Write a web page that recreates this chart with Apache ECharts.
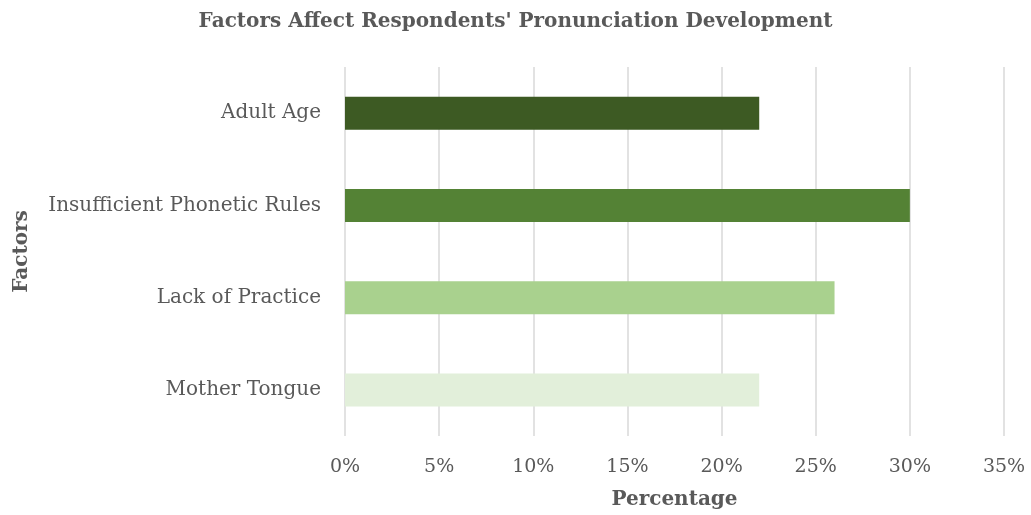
<!DOCTYPE html>
<html>
<head>
<meta charset="utf-8">
<script src="https://cdn.jsdelivr.net/npm/echarts@6/dist/echarts.min.js"></script>
<style>
html,body{margin:0;padding:0;background:#fff;}
#chart{width:1031px;height:515px;}
</style>
</head>
<body>
<div id="chart"></div>
<script>
const categories = ['Adult Age', 'Insufficient Phonetic Rules', 'Lack of Practice', 'Mother Tongue'];
const values = [22, 30, 26, 22];
const barColors = ['#3D5A23', '#548235', '#A9D18E', '#E2EFDA'];
const xTicks = [0, 5, 10, 15, 20, 25, 30, 35];

const font = '"DejaVu Serif", "Liberation Serif", serif';
const chart = echarts.init(document.getElementById('chart'));
chart.setOption({
  backgroundColor: '#ffffff',
  animation: false,
  title: {
    text: "Factors Affect Respondents' Pronunciation Development",
    left: 'center',
    top: 7,
    textStyle: { fontFamily: font, fontWeight: 'bold', fontSize: 20, color: '#595959' }
  },
  grid: { left: 345, right: 27, top: 67, bottom: 79, containLabel: false },
  xAxis: {
    type: 'value',
    min: xTicks[0],
    max: xTicks[xTicks.length - 1],
    interval: 5,
    name: 'Percentage',
    nameLocation: 'middle',
    nameGap: 54,
    nameTextStyle: { fontFamily: font, fontWeight: 'bold', fontSize: 20, color: '#595959' },
    axisLine: { show: false },
    axisTick: { show: false },
    axisLabel: { formatter: '{value}%', fontFamily: font, fontSize: 19, color: '#595959', margin: 22 },
    splitLine: { show: true, lineStyle: { color: '#D9D9D9', width: 1.5 } }
  },
  yAxis: {
    type: 'category',
    data: categories,
    inverse: true,
    name: 'Factors',
    nameLocation: 'middle',
    nameGap: 313,
    nameRotate: 90,
    nameTextStyle: { fontFamily: font, fontWeight: 'bold', fontSize: 20, color: '#595959' },
    axisLine: { show: false },
    axisTick: { show: false },
    axisLabel: { fontFamily: font, fontSize: 20, color: '#595959', margin: 24 }
  },
  series: [{
    type: 'bar',
    barWidth: 33,
    data: values.map((v, i) => ({ value: v, itemStyle: { color: barColors[i] } }))
  }]
});
</script>
</body>
</html>
